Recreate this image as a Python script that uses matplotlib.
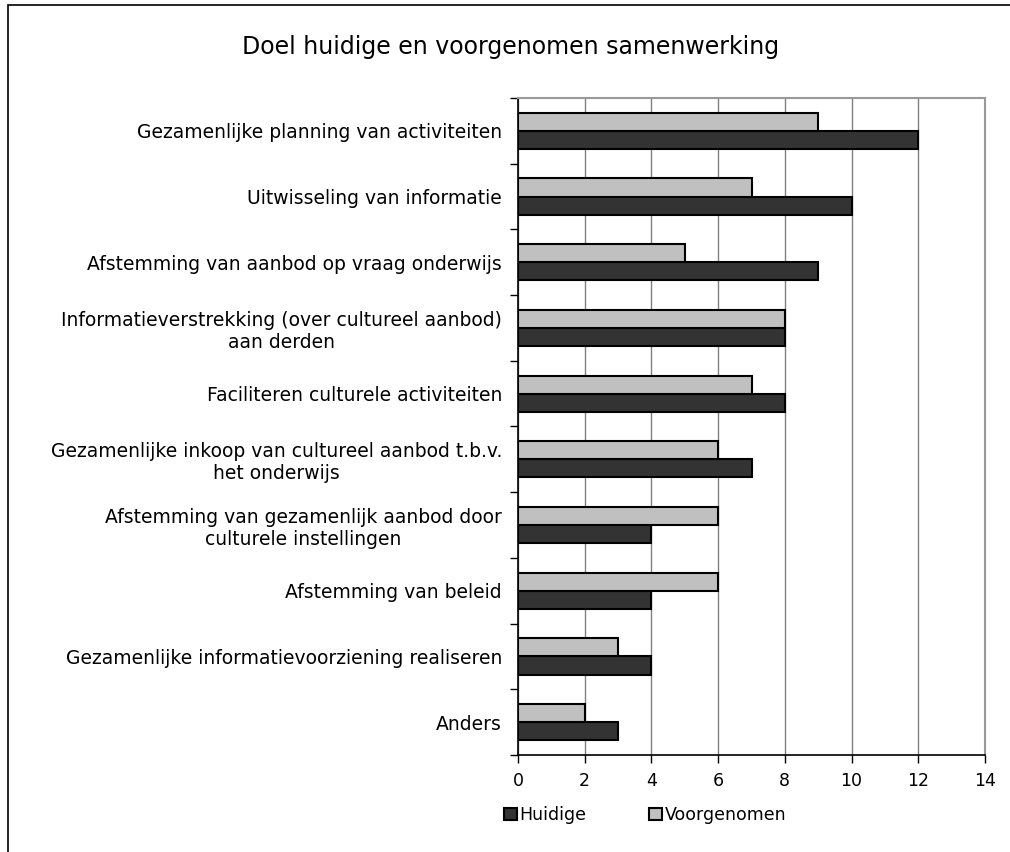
import numpy as np
import matplotlib.pyplot as plt
from matplotlib.patches import Rectangle

categories = [
    "Gezamenlijke planning van activiteiten",
    "Uitwisseling van informatie",
    "Afstemming van aanbod op vraag onderwijs",
    "Informatieverstrekking (over cultureel aanbod)\naan derden",
    "Faciliteren culturele activiteiten",
    "Gezamenlijke inkoop van cultureel aanbod t.b.v.\nhet onderwijs",
    "Afstemming van gezamenlijk aanbod door\nculturele instellingen",
    "Afstemming van beleid",
    "Gezamenlijke informatievoorziening realiseren",
    "Anders",
]
huidige = [12, 10, 9, 8, 8, 7, 4, 4, 4, 3]
voorgenomen = [9, 7, 5, 8, 7, 6, 6, 6, 3, 2]
xticks = [0, 2, 4, 6, 8, 10, 12, 14]

W, H = 1010, 852
fig = plt.figure(figsize=(W / 100, H / 100), dpi=100)
fig.patch.set_facecolor("white")
plt.rcParams["font.family"] = "DejaVu Sans"

# buitenkader (rechts en onder afgesneden zoals in het origineel)
fig.patches.append(Rectangle((8 / W, -0.1), 1.2, 1 - 5 / H + 0.1, transform=fig.transFigure,
                             fill=False, edgecolor="black", linewidth=1.2))

ax = fig.add_axes([518 / W, 1 - 755 / H, (985 - 518) / W, (755 - 98) / H])

n = len(categories)
y = np.arange(n)
bh = 0.275
ax.barh(y + bh / 2, huidige, height=bh, color="#333333", edgecolor="black",
        linewidth=1.5, label="Huidige", zorder=3)
ax.barh(y - bh / 2, voorgenomen, height=bh, color="#c0c0c0", edgecolor="black",
        linewidth=1.5, label="Voorgenomen", zorder=3)

ax.set_ylim(n - 0.5, -0.5)
ax.set_xlim(0, 14)
ax.set_xticks(xticks)
ax.set_xticklabels([str(v) for v in xticks], fontsize=12.5)
ax.set_yticks(y)
ax.set_yticklabels(categories, fontsize=13.5, ha="right", multialignment="center",
                   linespacing=1.2)
ax.set_yticks(np.arange(n + 1) - 0.5, minor=True)
ax.tick_params(axis="y", which="major", length=0, pad=11.5)
ax.tick_params(axis="y", which="minor", length=6, width=1, direction="out")
ax.tick_params(axis="x", length=6, width=1, direction="out", pad=6)

ax.grid(axis="x", color="#808080", linewidth=1, zorder=0)
ax.spines["top"].set_color("#999999")
ax.spines["right"].set_color("#999999")
ax.spines["top"].set_linewidth(1.5)
ax.spines["right"].set_linewidth(1.5)
ax.spines["left"].set_linewidth(1.2)
ax.spines["bottom"].set_linewidth(1.2)

fig.text(511 / W, 1 - 47 / H, "Doel huidige en voorgenomen samenwerking",
         ha="center", va="center", fontsize=17)

handles, labels = ax.get_legend_handles_labels()
leg = fig.legend(handles, labels, loc="center left", bbox_to_anchor=(488 / W, 1 - 815 / H),
                 ncol=2, frameon=False, handlelength=0.75, handleheight=0.75,
                 handletextpad=0.15, columnspacing=3.6, prop={"size": 12.5})

fig.savefig("out.png", dpi=100, facecolor="white")
